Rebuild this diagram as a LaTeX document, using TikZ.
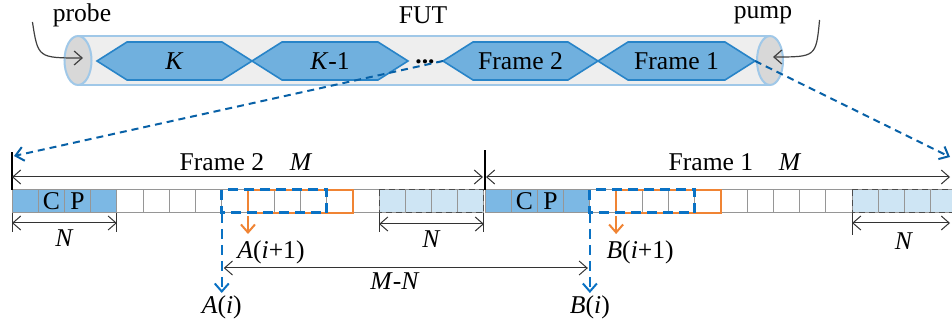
\documentclass[tikz,border=0pt]{standalone}
\usepackage{fontspec}
\setmainfont{Liberation Serif}
\usetikzlibrary{arrows.meta,calc,positioning}
\definecolor{hexblue}{RGB}{112,176,222}
\definecolor{hexedge}{RGB}{40,132,200}
\definecolor{tubeedge}{RGB}{160,200,232}
\definecolor{tubegray}{RGB}{238,238,238}
\definecolor{capgray}{RGB}{216,216,216}
\definecolor{cpblue}{RGB}{124,184,228}
\definecolor{tailblue}{RGB}{206,229,244}
\definecolor{cellgray}{RGB}{150,150,150}
\definecolor{winblue}{RGB}{10,114,196}
\definecolor{winorange}{RGB}{240,132,52}

\tikzset{
  lbl/.style={font=\fontsize{12.8}{15}\selectfont, inner sep=1pt},
  hexa/.style={fill=hexblue, draw=hexedge, line width=0.8pt, line join=miter},
  tubeline/.style={draw=tubeedge, line width=1.2pt},
  fibrecap/.style={draw=tubeedge, line width=1pt, fill=capgray},
  feed/.style={draw=black!75, line width=0.6pt, ->},
  lead/.style={draw=winblue!85!black, line width=1pt, dash pattern=on 3.5pt off 2.5pt, ->},
  cell/.style={draw=cellgray, line width=0.5pt, minimum width=13.11pt, minimum height=11.5pt,
    inner sep=0pt, outer sep=0pt, anchor=north west},
  dim/.style={draw=black!80, line width=0.5pt, <->},
  tick/.style={draw=black!80, line width=0.5pt},
  fbound/.style={draw=black, line width=0.9pt},
  win/.style={draw=winblue, line width=1.5pt, dash pattern=on 5pt off 3pt},
  orwin/.style={draw=winorange, line width=1pt},
  winarrow/.style={draw=winblue, line width=1pt, dash pattern=on 5pt off 3pt, ->},
  orarrow/.style={draw=winorange, line width=1pt, ->},
}

% one frame of the pulse train inside the fibre
\newcommand{\hexfr}[4]{%
  \coordinate (#1-l) at (#2,61);
  \coordinate (#1-r) at (#3,61);
  \draw[hexa] (#1-l) -- (#2+30,42) -- (#3-30,42) -- (#1-r) -- (#3-30,80) -- (#2+30,80) -- cycle;
  \node[lbl] (#1) at ($(#1-l)!0.5!(#1-r)$) {#4};}

\begin{document}
\begin{tikzpicture}[x=0.5pt,y=-0.5pt,>={Straight Barb[length=4pt,width=7pt]}]
    \useasboundingbox (0,0) rectangle (952,325);
    % fibre under test
    \fill[tubegray] (78,36) rectangle (770,85);
    \draw[tubeline] (78,36) -- (770,36) (78,85) -- (770,85);
    \draw[fibrecap] (78,60.5) ellipse [x radius=13.5,y radius=24.5];
    \draw[fibrecap] (770,60.5) ellipse [x radius=13,y radius=24.5];
    \hexfr{fK}{97}{252}{\textit{K}}
    \hexfr{fK1}{252}{408}{\textit{K}-1}
    \hexfr{f2}{443}{598}{Frame 2}
    \hexfr{f1}{598}{755}{Frame 1}
    \node[lbl] (dots) at (425,62) {\textbf{...}};
    \node[lbl] (probe) at (82,15) {probe};
    \node[lbl] (fut) at (423,15) {FUT};
    \node[lbl] (pump) at (763,15) {pump};
    \coordinate (pin) at (83,58);
    \coordinate (qin) at (773,57);
    \draw[feed] ($(probe.west)+(-18,7)$) .. controls (38,58) .. (pin);
    \draw[feed] ($(pump.east)+(25,5)$) .. controls (816,57) .. (qin);

    % symbols of the two frames
    \foreach \f/\x in {2/12,1/485}{
      \foreach \k in {0,...,17}{
        \pgfmathsetmacro{\cx}{\x+\k*26.22}
        \ifnum\k<4 \def\cf{cpblue}\else\ifnum\k>13 \def\cf{tailblue}\else\def\cf{white}\fi\fi
        \node[cell,fill=\cf] (c\f-\k) at (\cx,190) {};
      }
      \node[lbl] (C\f) at (c\f-1) {C};
      \node[lbl] (P\f) at (c\f-2) {P};
      \draw[densely dashed,black!70,line width=0.5pt] (c\f-14.north west) rectangle (c\f-17.south east);
    }
    \coordinate (rowend) at (950,190);
    % leader lines from the fibre
    \draw[lead] (f2-l) -- ($(c2-0.north west)+(2,-34)$);
    \draw[lead] (f1-r) -- ($(rowend)+(0,-33)$);
    % frame lengths
    \draw[fbound] (c2-0.north west) -- ++(0,-38);
    \draw[fbound] (c1-0.north west) -- ++(0,-40);
    \draw[dim] ($(c2-0.north west)+(0,-13)$) -- ($(c2-17.north east)+(-1,-13)$);
    \draw[dim] ($(c1-0.north west)+(1,-13)$) -- ($(rowend)+(0,-13)$);
    \node[lbl] (lab2) at ($(c2-0.north west)!0.5!(c2-17.north east)+(-2,-28)$) {Frame 2\quad\textit{M}};
    \node[lbl] (lab1) at ($(c1-0.north west)+(250,-28)$) {Frame 1\quad\textit{M}};
    % cyclic prefix and its copy
    \draw[tick] (c2-0.south west) -- ++(0,19);
    \draw[tick] (c2-3.south east) -- ++(0,19);
    \draw[dim] ($(c2-0.south west)+(0,10)$) -- ($(c2-3.south east)+(0,10)$) node[lbl,midway,below=2pt] (n1) {\textit{N}};
    \draw[tick] (c2-14.south west) -- ++(0,19);
    \draw[tick] (c2-17.south east) -- ++(0,19);
    \draw[dim] ($(c2-14.south west)+(0,11)$) -- ($(c2-17.south east)+(0,11)$) node[lbl,midway,below=2pt] (n2) {\textit{N}};
    \draw[tick] (c1-14.south west) -- ++(0,22);
    \draw[dim] ($(c1-14.south west)+(0,10)$) -- ($(rowend)+(0,33)$);
    \node[lbl] (n3) at ($(c1-14.south west)+(52,28)$) {\textit{N}};
    % sliding windows
    \draw[orwin] (c2-9.north west) rectangle (c2-12.south east);
    \draw[win] (c2-8.north west) rectangle (c2-11.south east);
    \draw[orwin] (c1-5.north west) rectangle (c1-8.south east);
    \draw[win] (c1-4.north west) rectangle (c1-7.south east);
    \node[lbl] (Ai) at ($(c2-8.south west)+(0,94)$) {\textit{A}(\textit{i})};
    \node[lbl] (Bi) at ($(c1-4.south west)+(0,94)$) {\textit{B}(\textit{i})};
    \draw[winarrow] (c2-8.south west) -- (Ai.north);
    \draw[winarrow] (c1-4.south west) -- (Bi.north);
    \draw[orarrow] ($(c2-9.south west)+(0,3)$) -- ++(0,18);
    \draw[orarrow] ($(c1-5.south west)+(0,3)$) -- ++(0,18);
    \node[lbl] (Ai1) at ($(c2-9.south west)+(23,39)$) {\textit{A}(\textit{i}+1)};
    \node[lbl] (Bi1) at ($(c1-5.south west)+(24,39)$) {\textit{B}(\textit{i}+1)};
    \draw[dim] ($(c2-8.south west)+(2,55)$) -- ($(c1-4.south west)+(-2,55)$) node[lbl,pos=0.47,below=1pt] (mn) {\textit{M}-\textit{N}};
\end{tikzpicture}
\end{document}
